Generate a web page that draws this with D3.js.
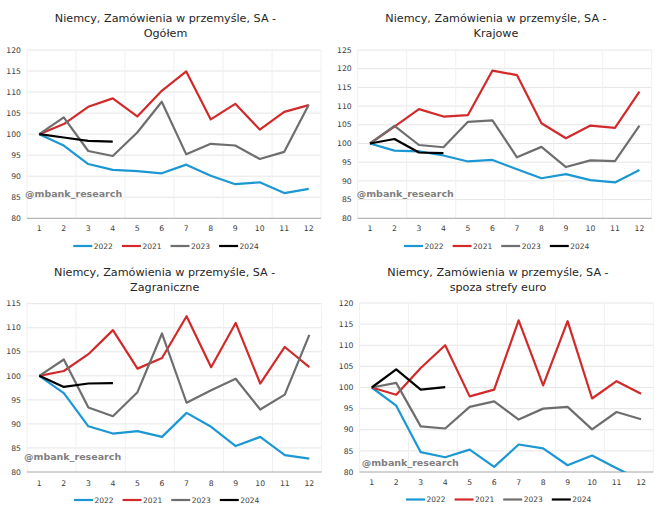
<!DOCTYPE html>
<html>
<head>
<meta charset="utf-8">
<script src="https://cdn.jsdelivr.net/npm/d3@7"></script>
<style>
  html, body { margin: 0; padding: 0; background: #fff; }
  svg { display: block; font-family: "DejaVu Sans", Verdana, sans-serif; }
</style>
</head>
<body>
<svg id="chart" width="670" height="514"></svg>
<script>
// ---------- DATA ----------
const months = [1, 2, 3, 4, 5, 6, 7, 8, 9, 10, 11, 12];
const seriesNames = ["2022", "2021", "2023", "2024"];
const titleLine1 = "Niemcy, Zamówienia w przemyśle, SA -";
const panelSubtitles = ["Ogółem", "Krajowe", "Zagraniczne", "spoza strefy euro"];
const watermark = "@mbank_research";

// Ogółem
const total2022 = [100, 97.3, 92.9, 91.5, 91.2, 90.7, 92.75, 90.1, 88.1, 88.55, 86.0, 87.0];
const total2021 = [100, 102.4, 106.5, 108.5, 104.2, 110.3, 114.9, 103.5, 107.2, 101.1, 105.3, 106.9];
const total2023 = [100, 104.0, 96.0, 94.8, 100.4, 107.7, 95.2, 97.7, 97.3, 94.1, 95.8, 107.0];
const total2024 = [100, 99.2, 98.4, 98.2];
const totalTicks = [80, 85, 90, 95, 100, 105, 110, 115, 120];

// Krajowe
const domestic2022 = [100, 98.1, 97.9, 96.8, 95.2, 95.6, 93.1, 90.7, 91.8, 90.2, 89.6, 92.9];
const domestic2021 = [100, 104.5, 109.2, 107.2, 107.6, 119.5, 118.3, 105.4, 101.4, 104.8, 104.2, 113.9];
const domestic2023 = [100, 104.7, 99.6, 99.0, 105.8, 106.2, 96.3, 99.1, 93.7, 95.5, 95.3, 104.8];
const domestic2024 = [100, 101.2, 97.6, 97.4];
const domesticTicks = [80, 85, 90, 95, 100, 105, 110, 115, 120, 125];

// Zagraniczne
const foreign2022 = [100, 96.4, 89.5, 88.0, 88.5, 87.3, 92.3, 89.4, 85.4, 87.3, 83.5, 82.8];
const foreign2021 = [100, 101.0, 104.5, 109.5, 101.5, 103.7, 112.4, 101.8, 111.0, 98.4, 106.0, 101.8];
const foreign2023 = [100, 103.4, 93.4, 91.6, 96.6, 108.8, 94.4, 97.0, 99.4, 93.0, 96.1, 108.5];
const foreign2024 = [100, 97.7, 98.4, 98.5];
const foreignTicks = [80, 85, 90, 95, 100, 105, 110, 115];

// spoza strefy euro
const nonEuro2022 = [100, 95.7, 84.7, 83.5, 85.3, 81.2, 86.5, 85.6, 81.6, 83.9, 80.9, 78.0];
const nonEuro2021 = [100, 98.3, 104.6, 110.0, 97.9, 99.5, 115.9, 100.5, 115.7, 97.4, 101.5, 98.5];
const nonEuro2023 = [100, 101.1, 90.8, 90.3, 95.4, 96.7, 92.4, 95.0, 95.4, 90.1, 94.2, 92.5];
const nonEuro2024 = [100, 104.3, 99.5, 100.1];
const nonEuroTicks = [80, 85, 90, 95, 100, 105, 110, 115, 120];

// ---------- STYLE / LAYOUT ----------
const colors = { "2022": "#1b98d3", "2021": "#d22a2a", "2023": "#6e6e6e", "2024": "#000000" };

const panels = [
  { sub: panelSubtitles[0], series: [total2022, total2021, total2023, total2024], ticks: totalTicks,
    left: 27, right: 321, top: 50, bottom: 218.3, tcx: 165.5, t1: 22.3, t2: 37.3,
    wmx: 25, wmy: 196.5, xly: 231.2, legy: 246, legx: 73.3 },
  { sub: panelSubtitles[1], series: [domestic2022, domestic2021, domestic2023, domestic2024], ticks: domesticTicks,
    left: 357.7, right: 651.7, top: 50, bottom: 218.3, tcx: 496, t1: 21.5, t2: 36.5,
    wmx: 356.7, wmy: 196.5, xly: 231.2, legy: 246, legx: 404 },
  { sub: panelSubtitles[2], series: [foreign2022, foreign2021, foreign2023, foreign2024], ticks: foreignTicks,
    left: 27, right: 321.6, top: 303.7, bottom: 472, tcx: 164.7, t1: 276, t2: 290.7,
    wmx: 24, wmy: 459.7, xly: 485.6, legy: 500, legx: 74 },
  { sub: panelSubtitles[3], series: [nonEuro2022, nonEuro2021, nonEuro2023, nonEuro2024], ticks: nonEuroTicks,
    left: 359.5, right: 653.3, top: 303, bottom: 472, tcx: 498, t1: 276, t2: 290.5,
    wmx: 361.7, wmy: 466, xly: 485, legy: 499.5, legx: 406 }
];

const svg = d3.select("#chart");
const defs = svg.append("defs");

panels.forEach((p, pi) => {
  const g = svg.append("g");
  const ticks = p.ticks;
  const x = d3.scalePoint().domain(months).range([p.left, p.right]).padding(0.5);
  const y = d3.scaleLinear().domain([d3.min(ticks), d3.max(ticks)]).range([p.bottom, p.top]);
  const step = x.step();

  // horizontal gridlines
  g.append("g").selectAll("line").data(ticks.slice(1)).join("line")
    .attr("x1", p.left).attr("x2", p.right)
    .attr("y1", d => y(d)).attr("y2", d => y(d))
    .attr("stroke", "#e6e6e6").attr("stroke-width", 1);

  // faint vertical gridlines (every second category boundary)
  const vb = [0, 2, 4, 6, 8, 10, 12];
  g.append("g").selectAll("line").data(vb).join("line")
    .attr("x1", d => p.left + d * step).attr("x2", d => p.left + d * step)
    .attr("y1", p.top).attr("y2", p.bottom)
    .attr("stroke", "#f0f0f0").attr("stroke-width", 1);

  // watermark
  g.append("text").attr("x", p.wmx).attr("y", p.wmy)
    .attr("font-size", 9.5).attr("font-weight", "bold").attr("fill", "#7f7f7f")
    .text(watermark);

  // y labels
  g.append("g").selectAll("text").data(ticks).join("text")
    .attr("x", p.left - 6).attr("y", d => y(d)).attr("dy", "0.35em")
    .attr("text-anchor", "end").attr("font-size", 7.7).attr("fill", "#404040")
    .text(d => d);

  // x axis line
  g.append("line").attr("x1", p.left).attr("x2", p.right)
    .attr("y1", p.bottom).attr("y2", p.bottom)
    .attr("stroke", "#a6a6a6").attr("stroke-width", 1);

  // x labels
  g.append("g").selectAll("text").data(months).join("text")
    .attr("x", d => x(d)).attr("y", p.xly)
    .attr("text-anchor", "middle").attr("font-size", 7.7).attr("fill", "#404040")
    .text(d => d);

  // clip
  const cid = "clip" + pi;
  defs.append("clipPath").attr("id", cid).append("rect")
    .attr("x", p.left).attr("y", p.top - 5).attr("width", p.right - p.left).attr("height", p.bottom - p.top + 5);

  const line = d3.line().x((d, i) => x(months[i])).y(d => y(d));
  const lg = g.append("g").attr("clip-path", `url(#${cid})`);
  p.series.forEach((s, si) => {
    lg.append("path").datum(s)
      .attr("d", line)
      .attr("fill", "none")
      .attr("stroke", colors[seriesNames[si]])
      .attr("stroke-width", 2.2)
      .attr("stroke-linejoin", "round");
  });

  // title
  g.append("text").attr("x", p.tcx).attr("y", p.t1).attr("text-anchor", "middle")
    .attr("font-size", 11.2).attr("fill", "#262626").text(titleLine1);
  g.append("text").attr("x", p.tcx).attr("y", p.t2).attr("text-anchor", "middle")
    .attr("font-size", 11.2).attr("fill", "#262626").text(p.sub);

  // legend
  const itemW = 48.6;
  seriesNames.forEach((name, i) => {
    const lx = p.legx + i * itemW;
    g.append("line").attr("x1", lx).attr("x2", lx + 19)
      .attr("y1", p.legy).attr("y2", p.legy)
      .attr("stroke", colors[name]).attr("stroke-width", 2.2);
    g.append("text").attr("x", lx + 20.5).attr("y", p.legy).attr("dy", "0.35em")
      .attr("font-size", 7.5).attr("fill", "#404040").text(name);
  });
});
</script>
</body>
</html>
